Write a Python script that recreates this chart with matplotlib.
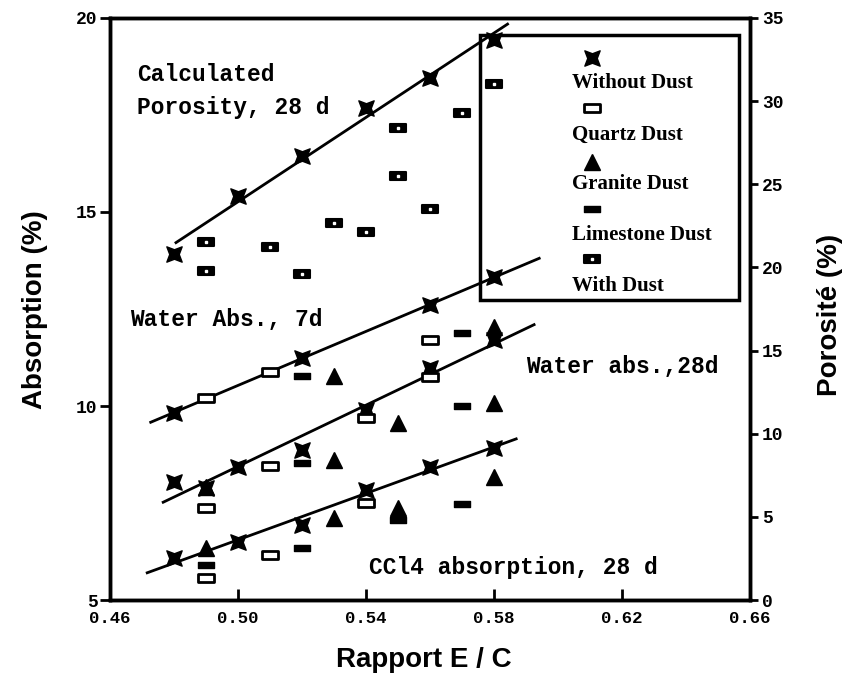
import numpy as np
import matplotlib.pyplot as plt
from matplotlib.path import Path
from matplotlib.patches import Rectangle

# water / cement ratio and measured values
# calculated porosity, 28 d (right axis, %)
por_without_x = [0.48, 0.50, 0.52, 0.54, 0.56, 0.58]
por_without = [20.8, 24.3, 26.7, 29.6, 31.4, 33.7]
por_with_x = [0.49, 0.49, 0.51, 0.52, 0.53, 0.54, 0.55, 0.55, 0.56, 0.57, 0.58]
por_with = [21.5, 19.8, 21.2, 19.6, 22.7, 22.1, 28.4, 25.5, 23.5, 29.3, 31.0]

# water absorption, 7 d (left axis, %)
w7_without_x = [0.48, 0.52, 0.56, 0.58]
w7_without = [9.83, 11.24, 12.6, 13.32]
w7_quartz_x = [0.49, 0.51]
w7_quartz = [10.2, 10.88]
w7_lime_x = [0.52]
w7_lime = [10.77]
w7_granite_x = [0.53]
w7_granite = [10.77]

# water absorption, 28 d
w28_without_x = [0.48, 0.49, 0.50, 0.52, 0.54, 0.56, 0.58]
w28_without = [8.04, 7.89, 8.43, 8.87, 9.9, 10.98, 11.7]
w28_quartz_x = [0.49, 0.51, 0.54, 0.56, 0.56]
w28_quartz = [7.37, 8.45, 9.69, 10.75, 11.7]
w28_lime_x = [0.52, 0.57, 0.57]
w28_lime = [8.53, 10.0, 11.88]
w28_granite_x = [0.49, 0.53, 0.55, 0.58, 0.58]
w28_granite = [7.92, 8.6, 9.55, 10.08, 12.04]

# CCl4 absorption, 28 d
c_without_x = [0.48, 0.50, 0.52, 0.54, 0.56, 0.58]
c_without = [6.08, 6.49, 6.93, 7.84, 8.43, 8.92]
c_quartz_x = [0.49, 0.51, 0.54]
c_quartz = [5.57, 6.16, 7.5]
c_lime_x = [0.49, 0.52, 0.55, 0.57]
c_lime = [5.9, 6.34, 7.06, 7.47]
c_granite_x = [0.49, 0.53, 0.55, 0.58]
c_granite = [6.34, 7.11, 7.37, 8.17]

# x span of each regression line
por_fit_span = [0.4806, 0.5843]
w7_fit_span = [0.4727, 0.5942]
w28_fit_span = [0.4766, 0.5926]
c_fit_span = [0.4716, 0.5870]

legend_labels = ["Without Dust", "Quartz Dust", "Granite Dust",
                 "Limestone Dust", "With Dust"]

# custom markers
k = 0.62
bowtie = Path([(-1, -1), (0, -k), (1, -1), (k, 0), (1, 1),
               (0, k), (-1, 1), (-k, 0), (-1, -1)],
              [Path.MOVETO] + [Path.LINETO] * 7 + [Path.CLOSEPOLY])
bar = Path([(-1, -0.45), (1, -0.45), (1, 0.45), (-1, 0.45), (-1, -0.45)],
           [Path.MOVETO] + [Path.LINETO] * 3 + [Path.CLOSEPOLY])

styles = {
    "without": dict(marker=bowtie, ms=11, mfc="black", mec="black", mew=1),
    "quartz": dict(marker=bar, ms=12, mfc="white", mec="black", mew=2),
    "granite": dict(marker="^", ms=12, mfc="black", mec="black", mew=1),
    "lime": dict(marker=bar, ms=11, mfc="black", mec="black", mew=1),
    "with": dict(marker=bar, ms=12, mfc="black", mec="black", mew=1.5),
}


def pts(axis, x, y, kind):
    axis.plot(x, y, ls="none", zorder=4, **styles[kind])
    if kind == "with":
        axis.plot(x, y, ls="none", marker="s", ms=1.5, mfc="white",
                  mec="white", zorder=5)


def fit_line(axis, x, y, span):
    k, b = np.polyfit(x, y, 1)
    xs = np.array(span)
    axis.plot(xs, k * xs + b, color="black", lw=2, zorder=3)


mono = "Liberation Mono"

fig = plt.figure(figsize=(8.47, 6.8), dpi=100)
ax = fig.add_axes([0.130, 0.1176, 0.755, 0.856])
ax2 = ax.twinx()

ax.set_xlim(0.46, 0.66)
ax.set_ylim(5, 20)
ax2.set_ylim(0, 35)

# water absorption 7 d
fit_line(ax, w7_without_x, w7_without, w7_fit_span)
pts(ax, w7_without_x, w7_without, "without")
pts(ax, w7_quartz_x, w7_quartz, "quartz")
pts(ax, w7_lime_x, w7_lime, "lime")
pts(ax, w7_granite_x, w7_granite, "granite")

# water absorption 28 d
fit_line(ax, w28_without_x, w28_without, w28_fit_span)
pts(ax, w28_without_x, w28_without, "without")
pts(ax, w28_quartz_x, w28_quartz, "quartz")
pts(ax, w28_lime_x, w28_lime, "lime")
pts(ax, w28_granite_x, w28_granite, "granite")

# CCl4 absorption 28 d
fit_line(ax, c_without_x, c_without, c_fit_span)
pts(ax, c_without_x, c_without, "without")
pts(ax, c_quartz_x, c_quartz, "quartz")
pts(ax, c_lime_x, c_lime, "lime")
pts(ax, c_granite_x, c_granite, "granite")

# porosity on the right axis
fit_line(ax2, por_without_x, por_without, por_fit_span)
pts(ax2, por_without_x, por_without, "without")
pts(ax2, por_with_x, por_with, "with")

# curve labels
tkw = dict(family=mono, fontsize=16.5, fontweight="bold", va="center",
           ha="left")
ax.text(0.4685, 18.53, "Calculated", **tkw)
ax.text(0.4685, 17.68, "Porosity, 28 d", **tkw)
ax.text(0.4663, 12.22, "Water Abs., 7d", **tkw)
ax.text(0.5901, 11.03, "Water abs.,28d", **tkw)
ax.text(0.5409, 5.85, "CCl4 absorption, 28 d", **tkw)

# ticks and spines
ax.set_xticks([0.46, 0.50, 0.54, 0.58, 0.62, 0.66])
ax.set_xticklabels(["0.46", "0.50", "0.54", "0.58", "0.62", "0.66"])
ax.set_yticks([5, 10, 15, 20])
ax2.set_yticks([0, 5, 10, 15, 20, 25, 30, 35])
ax.tick_params(axis="x", direction="in", length=8, width=2, pad=8)
ax.tick_params(axis="y", direction="out", length=7, width=2, pad=2)
ax2.tick_params(axis="y", direction="out", length=6, width=2, pad=3)
for a in (ax, ax2):
    for lbl in a.get_yticklabels():
        lbl.set_family(mono)
        lbl.set_fontweight("bold")
        lbl.set_fontsize(13)
    for sp in a.spines.values():
        sp.set_linewidth(2.5)
for lbl in ax.get_xticklabels():
    lbl.set_family(mono)
    lbl.set_fontweight("bold")
    lbl.set_fontsize(12.5)

# legend box, marker above each label
ax2.add_patch(Rectangle((0.578, 0.515), 0.406, 0.456, transform=ax.transAxes,
                        fill=False, lw=2.5, ec="black", zorder=6))
leg_kinds = ["without", "quartz", "granite", "lime", "with"]
marker_y = [0.931, 0.845, 0.753, 0.672, 0.586]
label_y = [0.888, 0.799, 0.715, 0.627, 0.540]
for kind, my, ly, lab in zip(leg_kinds, marker_y, label_y, legend_labels):
    pts(ax2, [0.753], [my], kind)
    ax2.lines[-1].set_transform(ax.transAxes)
    if kind == "with":
        ax2.lines[-2].set_transform(ax.transAxes)
    ax2.text(0.722, ly, lab, transform=ax.transAxes, family="Liberation Serif",
             fontweight="bold", fontsize=15, va="center", ha="left", zorder=7)

fig.text(35 / 847, 1 - 310 / 680, "Absorption (%)", rotation=90,
         family="Liberation Sans", fontweight="bold", fontsize=20,
         ha="center", va="center")
fig.text(830 / 847, 1 - 315 / 680, "Porosité (%)", rotation=90,
         family="Liberation Sans", fontweight="bold", fontsize=20,
         ha="center", va="center")
fig.text(424 / 847, 1 - 660 / 680, "Rapport E / C",
         family="Liberation Sans", fontweight="bold", fontsize=20,
         ha="center", va="center")

fig.savefig("out.png", dpi=100)
